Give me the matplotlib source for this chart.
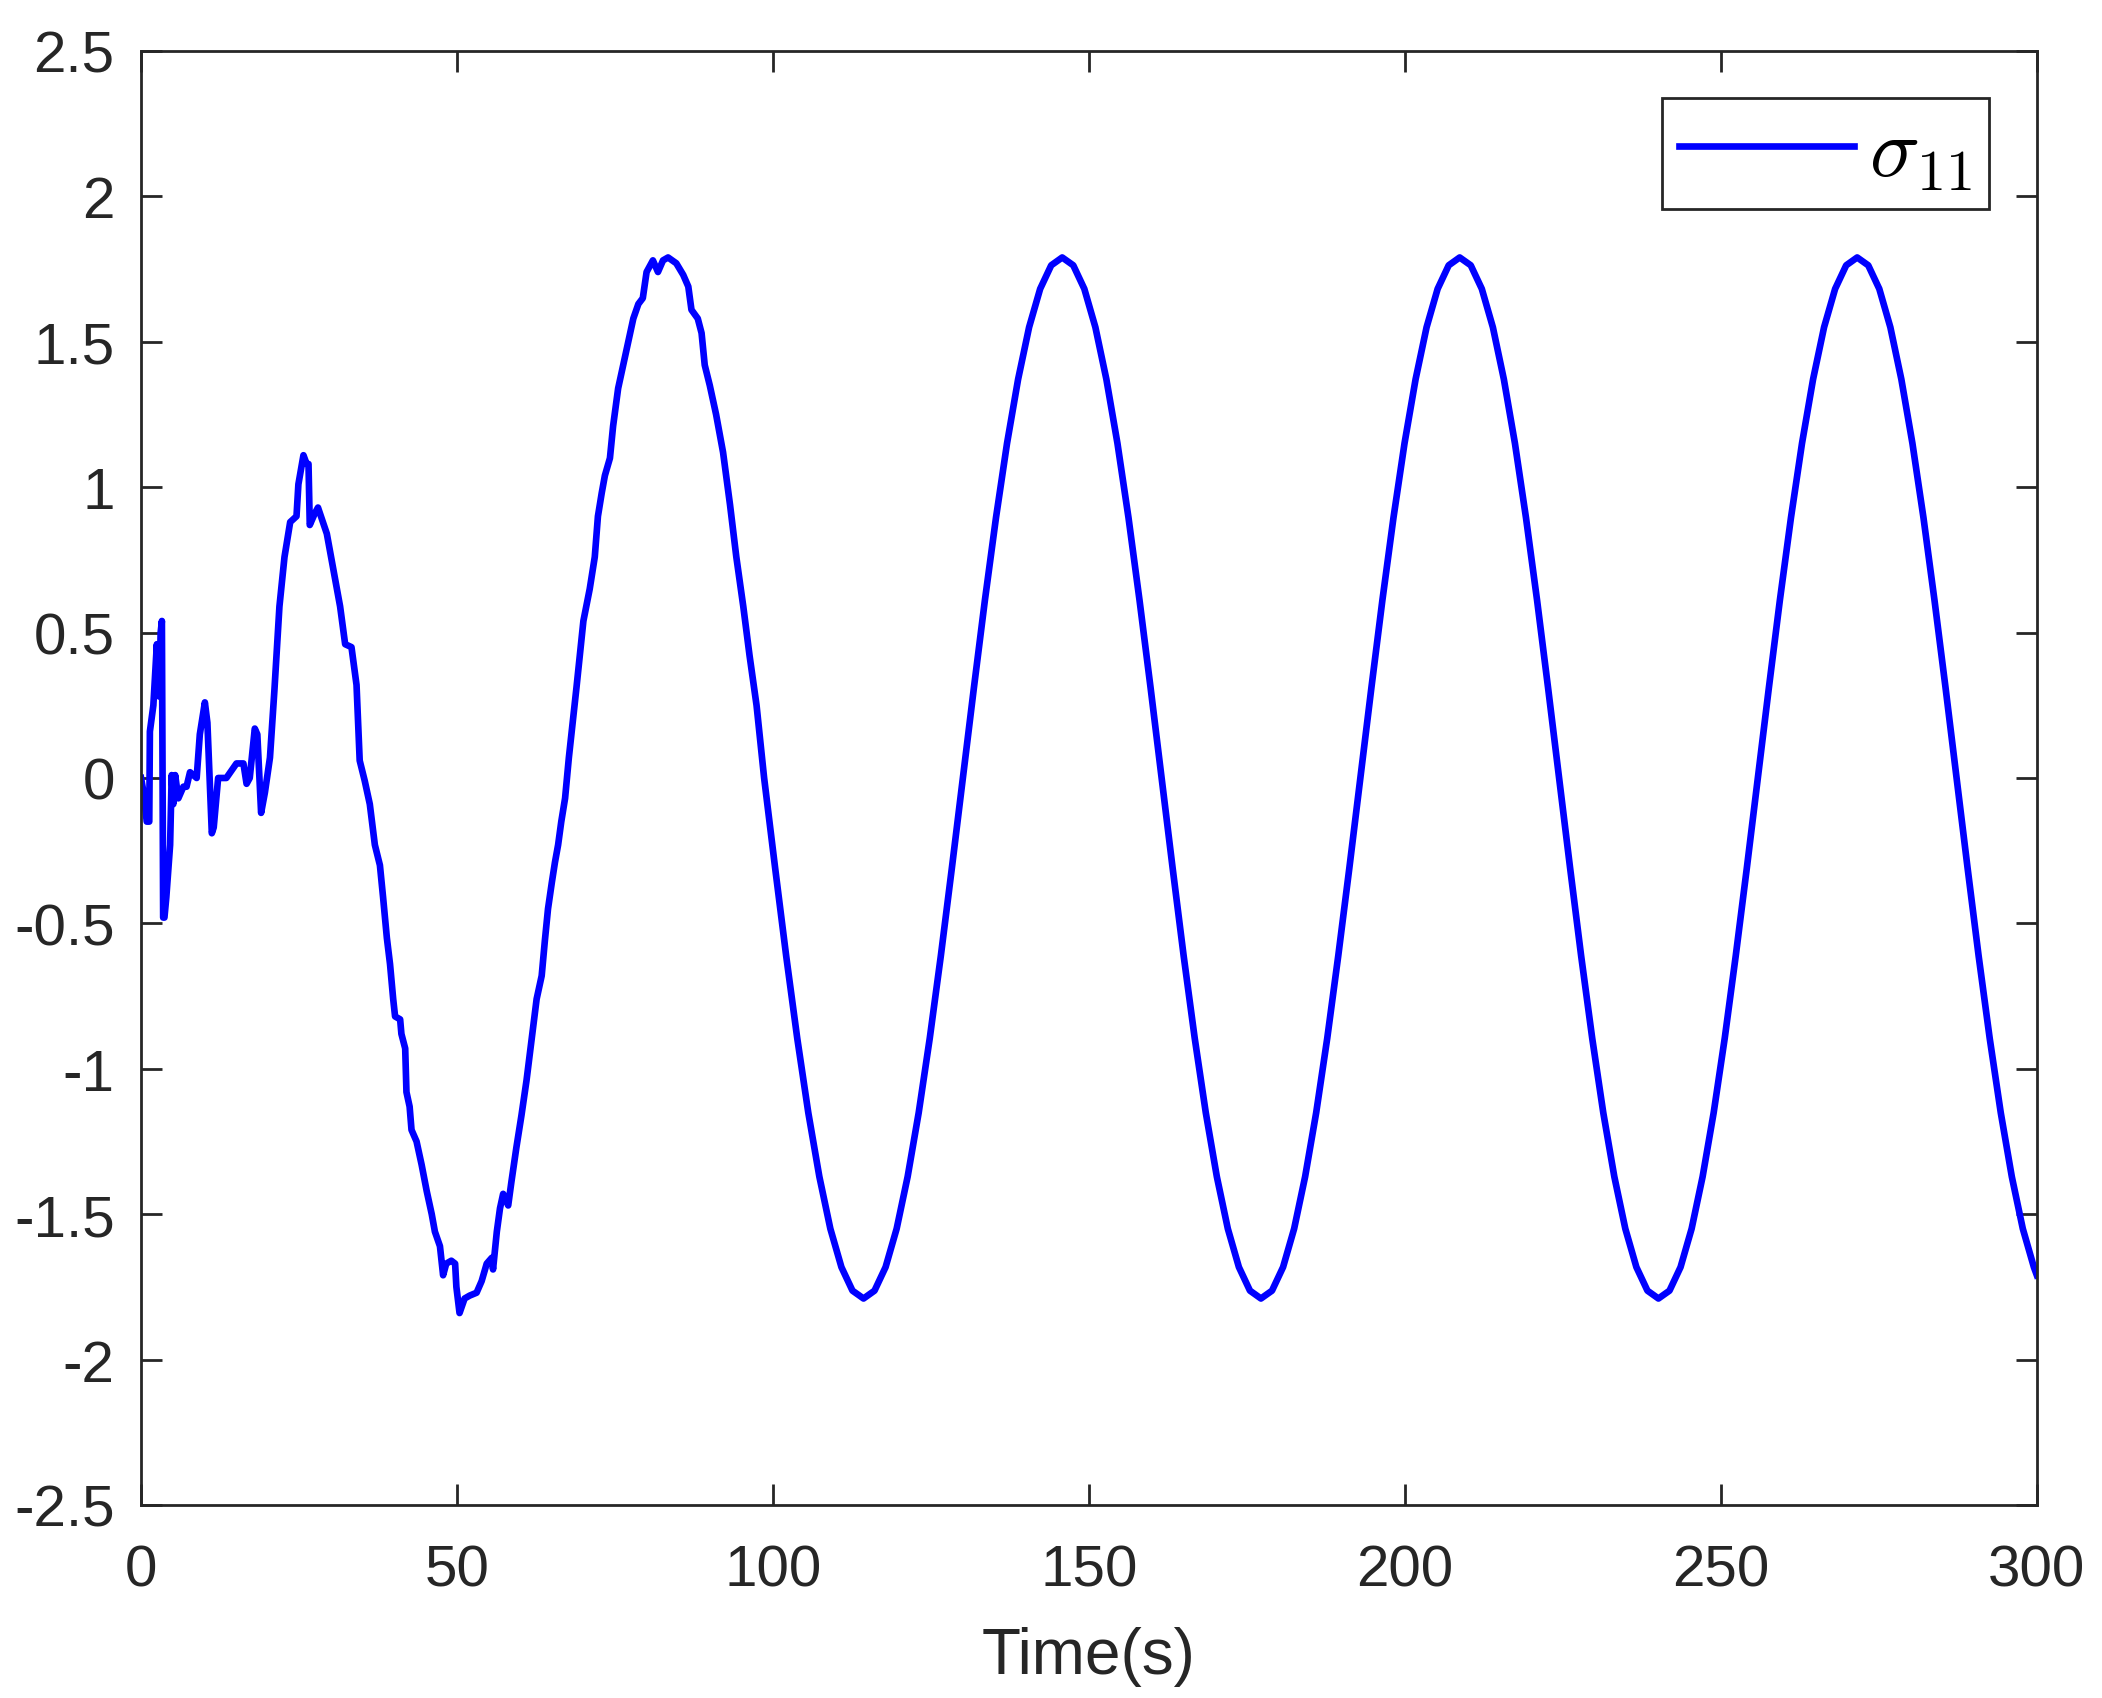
import numpy as np
from matplotlib import pyplot as plt
from matplotlib.ticker import FuncFormatter

# noisy start-up part
t_start = [
    0.0, 0.4, 0.9, 1.3, 1.4, 1.95, 2.5, 2.9, 3.1, 3.3, 3.5, 3.7, 4.0, 4.6, 4.85, 5.1, 5.4, 5.9,
    6.7, 7.2, 7.75, 8.8, 9.3, 10.1, 10.5, 10.9, 11.2, 11.5, 12.2, 13.5, 15.1, 16.2, 16.7, 17.2,
    18.0, 18.4, 19.0, 19.6, 20.4, 21.1, 21.9, 22.7, 23.6, 24.6, 24.9, 25.7, 26.2, 26.5, 26.7,
    27.5, 28.0, 29.4, 30.4, 31.5, 32.3, 33.3, 34.1, 34.6, 35.4, 36.2, 37.0, 37.8, 38.3, 38.9,
    39.4, 39.9, 40.2, 41.0, 41.2, 41.8, 42.0, 42.5, 42.8, 43.6, 44.4, 45.2, 46.0, 46.5, 47.3,
    47.8, 48.3, 49.1, 49.7, 49.9, 50.4, 51.2, 52.0, 53.1, 53.9, 54.7, 55.5, 55.7, 56.3, 56.8,
    57.3, 58.1, 58.6, 59.4, 60.2, 61.0, 61.8, 62.6, 63.4, 63.9, 64.4, 65.0, 65.5, 66.0, 66.5,
    67.1, 67.7, 68.9, 70.0, 71.0, 71.8, 72.3, 72.9, 73.4, 74.2, 74.7, 75.5, 76.3, 77.1, 77.9,
    78.7, 79.4, 80.0, 81.0, 81.8, 82.6, 83.4, 84.7, 85.8, 86.6, 87.1, 88.1, 88.7, 89.2, 90.0,
    91.0, 92.1, 93.2, 94.2, 95.3, 96.3, 97.4,
]
sigma_start = [
    0.00, -0.05, -0.15, -0.15, 0.16, 0.25, 0.46, 0.28, 0.50, 0.54, -0.48, -0.48, -0.41, -0.23,
    0.01, -0.09, 0.01, -0.07, -0.03, -0.03, 0.02, 0.00, 0.15, 0.26, 0.19, -0.03, -0.19, -0.17,
    0.00, 0.00, 0.05, 0.05, -0.02, 0.00, 0.17, 0.15, -0.12, -0.05, 0.07, 0.30, 0.59, 0.76, 0.88,
    0.90, 1.01, 1.11, 1.08, 1.08, 0.87, 0.91, 0.93, 0.84, 0.72, 0.59, 0.46, 0.45, 0.32, 0.06,
    -0.01, -0.09, -0.23, -0.30, -0.41, -0.55, -0.64, -0.76, -0.82, -0.83, -0.88, -0.93, -1.08,
    -1.13, -1.21, -1.25, -1.33, -1.42, -1.50, -1.56, -1.61, -1.71, -1.67, -1.66, -1.67, -1.75,
    -1.84, -1.79, -1.78, -1.77, -1.73, -1.67, -1.65, -1.69, -1.56, -1.48, -1.43, -1.47, -1.39,
    -1.27, -1.16, -1.04, -0.90, -0.76, -0.68, -0.56, -0.45, -0.36, -0.29, -0.23, -0.15, -0.07,
    0.07, 0.31, 0.54, 0.65, 0.76, 0.90, 0.98, 1.04, 1.10, 1.21, 1.34, 1.42, 1.50, 1.58, 1.63,
    1.65, 1.74, 1.78, 1.74, 1.78, 1.79, 1.77, 1.73, 1.69, 1.61, 1.58, 1.53, 1.42, 1.35, 1.25,
    1.12, 0.94, 0.76, 0.59, 0.42, 0.25,
]

# steady oscillation afterwards
t_steady = [
    98.60, 100.35, 102.09, 103.84, 105.59, 107.34, 109.08, 110.83, 112.58, 114.33, 116.07,
    117.82, 119.57, 121.31, 123.06, 124.81, 126.56, 128.30, 130.05, 131.80, 133.54, 135.29,
    137.04, 138.79, 140.53, 142.28, 144.03, 145.77, 147.52, 149.27, 151.02, 152.76, 154.51,
    156.26, 158.00, 159.75, 161.50, 163.25, 164.99, 166.74, 168.49, 170.24, 171.98, 173.73,
    175.48, 177.22, 178.97, 180.72, 182.47, 184.21, 185.96, 187.71, 189.45, 191.20, 192.95,
    194.70, 196.44, 198.19, 199.94, 201.69, 203.43, 205.18, 206.93, 208.67, 210.42, 212.17,
    213.92, 215.66, 217.41, 219.16, 220.91, 222.65, 224.40, 226.15, 227.89, 229.64, 231.39,
    233.14, 234.88, 236.63, 238.38, 240.12, 241.87, 243.62, 245.37, 247.11, 248.86, 250.61,
    252.35, 254.10, 255.85, 257.60, 259.34, 261.09, 262.84, 264.59, 266.33, 268.08, 269.83,
    271.57, 273.32, 275.07, 276.82, 278.56, 280.31, 282.06, 283.80, 285.55, 287.30, 289.05,
    290.79, 292.54, 294.29, 296.04, 297.78, 299.53, 300.00,
]
sigma_steady = [
    0.0, -0.311, -0.612, -0.895, -1.151, -1.371, -1.550, -1.682, -1.763,
    -1.790, -1.763, -1.682, -1.550, -1.371, -1.151, -0.895, -0.612, -0.311,
    0.0, 0.311, 0.612, 0.895, 1.151, 1.371, 1.550, 1.682, 1.763,
    1.790, 1.763, 1.682, 1.550, 1.371, 1.151, 0.895, 0.612, 0.311,
    0.0, -0.311, -0.612, -0.895, -1.151, -1.371, -1.550, -1.682, -1.763,
    -1.790, -1.763, -1.682, -1.550, -1.371, -1.151, -0.895, -0.612, -0.311,
    0.0, 0.311, 0.612, 0.895, 1.151, 1.371, 1.550, 1.682, 1.763,
    1.790, 1.763, 1.682, 1.550, 1.371, 1.151, 0.895, 0.612, 0.311,
    0.0, -0.311, -0.612, -0.895, -1.151, -1.371, -1.550, -1.682, -1.763,
    -1.790, -1.763, -1.682, -1.550, -1.371, -1.151, -0.895, -0.612, -0.311,
    0.0, 0.311, 0.612, 0.895, 1.151, 1.371, 1.550, 1.682, 1.763,
    1.790, 1.763, 1.682, 1.550, 1.371, 1.151, 0.895, 0.612, 0.311,
    0.0, -0.311, -0.612, -0.895, -1.151, -1.371, -1.550, -1.682, -1.71,
]

x_ticks = [0, 50, 100, 150, 200, 250, 300]
y_ticks = [-2.5, -2, -1.5, -1, -0.5, 0, 0.5, 1, 1.5, 2, 2.5]

plt.rcParams["font.family"] = ["Liberation Sans", "DejaVu Sans"]
plt.rcParams["mathtext.fontset"] = "cm"
plt.rcParams["axes.unicode_minus"] = False

dark = "#262626"

fig = plt.figure(figsize=(21.02, 16.99), dpi=100)
ax = fig.add_axes([0.0671, 0.1136, 0.9019, 0.8558])

t = np.array(t_start + t_steady)
sigma = np.array(sigma_start + sigma_steady)
ax.plot(t, sigma, color=(0, 0, 1), lw=4.8, label=r"$\sigma_{11}$")

ax.set_xlim(0, 300)
ax.set_ylim(-2.5, 2.5)
ax.set_xticks(x_ticks)
ax.set_yticks(y_ticks)
ax.yaxis.set_major_formatter(FuncFormatter(lambda v, _: f"{v:g}"))

for side in ax.spines.values():
    side.set_color(dark)
    side.set_linewidth(2)
ax.tick_params(direction="in", length=15, width=2, color=dark, labelcolor=dark,
               labelsize=42, top=True, right=True)
ax.tick_params(axis="x", pad=28)
ax.tick_params(axis="y", pad=19)

ax.set_xlabel("Time(s)", fontsize=46, color=dark, labelpad=20)

leg = ax.legend(loc="upper right", bbox_to_anchor=(0.9747, 0.9677), borderaxespad=0,
                fontsize=60, handlelength=2.1, handletextpad=0.18, borderpad=0.2,
                fancybox=False, framealpha=1)
leg.get_frame().set_edgecolor(dark)
leg.get_frame().set_linewidth(2)
for line in leg.get_lines():
    line.set_linewidth(4.8)

fig.savefig("out.png", dpi=100, facecolor="white")
